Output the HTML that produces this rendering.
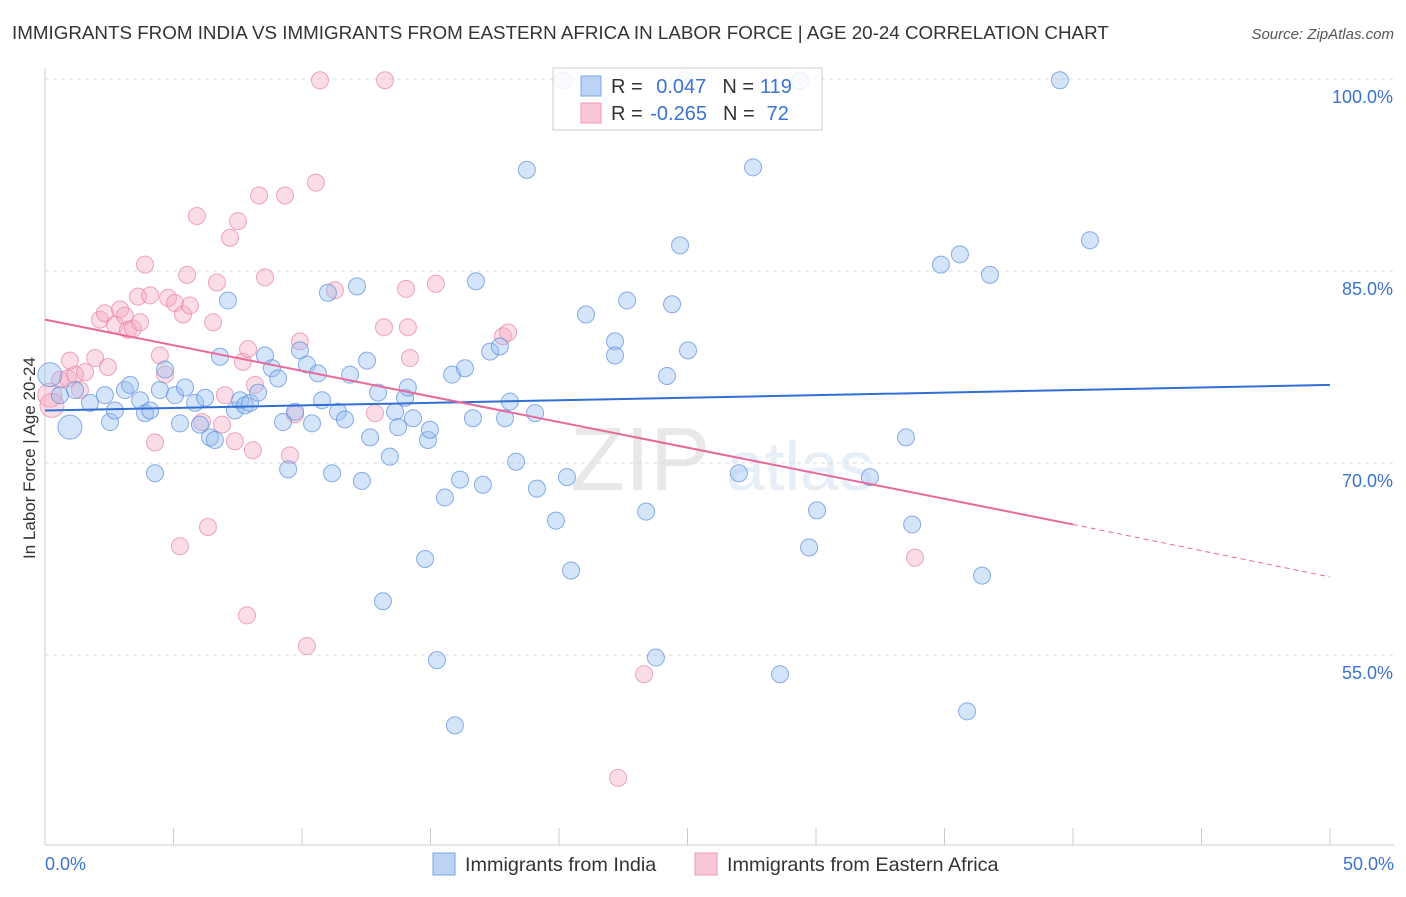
<!DOCTYPE html>
<html><head><meta charset="utf-8">
<style>
body{margin:0;background:#fff;font-family:"Liberation Sans",sans-serif;}
svg text{font-family:"Liberation Sans",sans-serif;}
</style></head>
<body>
<svg id="chart" width="1406" height="892" xmlns="http://www.w3.org/2000/svg">
<text x="12" y="39" font-size="18.8" fill="#333">IMMIGRANTS FROM INDIA VS IMMIGRANTS FROM EASTERN AFRICA IN LABOR FORCE | AGE 20-24 CORRELATION CHART</text>
<text x="1394" y="39" font-size="15" fill="#555" font-style="italic" text-anchor="end">Source: ZipAtlas.com</text>
<text x="35" y="458" font-size="17" fill="#333" text-anchor="middle" transform="rotate(-90 35 458)">In Labor Force | Age 20-24</text>
<text x="640" y="490" font-size="90" fill="#e8e8e8" font-family="Liberation Serif" text-anchor="middle">ZIP</text>
<text x="800" y="490" font-size="70" fill="#e6eef8" text-anchor="middle">atlas</text>
<g id="grid"></g><g id="axes"></g><g id="pts"></g><g id="lines"></g>
<g>
<rect x="553" y="68" width="269" height="62" fill="#fff" fill-opacity="0.85" stroke="#ccc"/>
<rect x="581" y="76" width="20" height="20" fill="#bcd3f5" stroke="#7aa6e6"/>
<rect x="581" y="103" width="20" height="20" fill="#f9c7d6" stroke="#ee9ab5"/>
<text x="611" y="93" font-size="20" fill="#333">R = <tspan fill="#3b73d1" dx="8">0.047</tspan><tspan dx="16">N =</tspan><tspan fill="#3b73d1" dx="6">119</tspan></text>
<text x="611" y="120" font-size="20" fill="#333">R = <tspan fill="#3b73d1" dx="2">-0.265</tspan><tspan dx="16">N =</tspan><tspan fill="#3b73d1" dx="12">72</tspan></text>
</g>
<g>
<rect x="433" y="853" width="22" height="22" fill="#bcd3f5" stroke="#7aa6e6"/>
<text x="465" y="871" font-size="19.8" fill="#333">Immigrants from India</text>
<rect x="695" y="853" width="22" height="22" fill="#f9c7d6" stroke="#ee9ab5"/>
<text x="727" y="871" font-size="19.8" fill="#333">Immigrants from Eastern Africa</text>
</g>
</svg>
<script>
const yTicks=[100,85,70,55];
const yTickLabels=["100.0%","85.0%","70.0%","55.0%"];
const xTicks=[0,5,10,15,20,25,30,35,40,45,50];
const xEndLabels=["0.0%","50.0%"];
const indiaX=[0.19,0.97,0.58,1.17,1.75,2.33,2.53,2.72,3.11,3.31,3.70,3.89,4.09,4.28,4.47,4.67,5.06,5.25,5.45,5.84,6.03,6.23,6.42,6.61,6.81,7.12,7.39,7.59,7.78,7.98,8.29,8.56,8.83,9.07,9.26,9.46,9.73,9.92,10.19,10.39,10.62,10.78,11.01,11.17,11.40,11.67,11.87,12.14,12.33,12.53,12.65,12.96,13.15,13.42,13.62,13.74,14.01,14.12,14.32,14.79,14.90,14.98,15.25,15.56,15.84,15.95,16.15,16.34,16.65,16.77,17.04,17.32,17.70,17.90,18.09,18.33,18.75,19.07,19.14,19.88,20.31,20.47,21.05,22.18,22.18,22.65,23.39,23.77,24.20,24.40,24.71,25.02,27.00,27.55,28.60,29.73,30.04,32.10,33.50,33.74,34.86,35.60,35.88,36.46,36.77,39.49,40.66,20.16,29.38,24.90];
const indiaY=[76.9,72.8,75.3,75.7,74.7,75.3,73.2,74.1,75.7,76.1,74.9,73.9,74.1,69.2,75.7,77.3,75.3,73.1,75.9,74.7,73.0,75.1,72.0,71.8,78.3,82.7,74.1,74.9,74.5,74.7,75.5,78.4,77.4,76.6,73.2,69.5,74.0,78.8,77.7,73.1,77.0,74.9,83.3,69.2,74.0,73.4,76.9,83.8,68.6,78.0,72.0,75.5,59.2,70.5,74.0,72.8,75.1,75.9,73.5,62.5,71.8,72.6,54.6,67.3,76.9,49.5,68.7,77.4,73.5,84.2,68.3,78.7,79.1,73.5,74.8,70.1,92.9,73.9,68.0,65.5,68.9,61.6,81.6,79.5,78.4,82.7,66.2,54.8,76.8,82.4,87.0,78.8,69.2,93.1,53.5,63.4,66.3,68.9,72.0,65.2,85.5,86.3,50.6,61.2,84.7,99.9,87.4,99.9,99.9,99.9];
const eafX=[0.19,0.27,0.58,0.89,1.17,1.36,1.56,0.97,1.95,2.14,2.33,2.45,2.72,2.92,3.11,3.23,3.42,3.70,3.62,3.89,4.09,4.28,4.47,4.67,4.79,5.06,5.25,5.37,5.53,5.64,5.91,6.11,6.34,6.54,6.69,6.89,7.00,7.20,7.39,7.51,7.70,8.09,8.17,8.33,8.56,7.86,9.34,9.53,9.73,9.92,10.19,10.54,10.70,11.28,12.84,13.23,13.19,14.05,14.12,14.20,15.21,17.82,18.02,23.31,22.30,33.85,7.90];
const eafY=[75.3,74.5,76.5,76.6,76.9,75.7,77.1,78.0,78.2,81.2,81.7,77.5,80.8,82.0,81.5,80.4,80.5,81.0,83.0,85.5,83.1,71.6,78.4,76.9,82.9,82.5,63.5,81.6,84.7,82.3,89.3,73.2,65.0,81.0,84.1,73.0,75.3,87.6,71.7,88.9,77.9,71.0,76.1,90.9,84.5,58.1,90.9,70.6,73.8,79.5,55.7,91.9,99.9,83.5,73.9,99.9,80.6,83.6,80.6,78.2,84.0,79.9,80.2,53.5,45.4,62.6,78.9];
const indiaTrend=[[0,74.1],[50,76.1]];
const eafTrend=[[0,81.2],[40,65.2],[50,61.1]];

const NS="http://www.w3.org/2000/svg";
const X=v=>45+v*25.7;
const Y=v=>79+(100-v)*12.8;
function mk(tag,attrs,parent){const e=document.createElementNS(NS,tag);for(const k in attrs)e.setAttribute(k,attrs[k]);document.getElementById(parent).appendChild(e);return e;}

yTicks.forEach((t,i)=>{
  const g=mk('line',{x1:45,x2:1394,y1:Y(t),y2:Y(t),stroke:'#ddd','stroke-dasharray':'4 4'},'grid');
  
  
  const l=mk('text',{x:1393,y:Y(t)+24,'font-size':18,fill:'#3b73d1','text-anchor':'end'},'grid');
  l.textContent=yTickLabels[i];
  
  
});
const ya=mk('line',{x1:45,x2:45,y1:68,y2:845,stroke:'#ccc'},'axes');


const xa=mk('line',{x1:45,x2:1394,y1:845,y2:845,stroke:'#ccc'},'axes');


xTicks.forEach(t=>{
  const k=mk('line',{x1:X(t),x2:X(t),y1:828,y2:845,stroke:'#ccc'},'axes');
  
  
});
[[xTicks[0],'start',45],[xTicks[xTicks.length-1],'end',1394]].forEach((a,i)=>{
  const l=mk('text',{x:a[2],y:870,'font-size':18,fill:'#3b73d1','text-anchor':a[1]},'axes');
  l.textContent=xEndLabels[i];
  
  
});
function drawPts(xs,ys,fill,stroke,name,bigCount){
  xs.forEach((x,i)=>{
    const c=mk('circle',{cx:X(x),cy:Y(ys[i]),r:i<bigCount?12:8.5,fill:fill,stroke:stroke,'stroke-width':1},'pts');
    
    
  });
}
drawPts(eafX,eafY,'rgba(245,170,195,0.4)','rgba(232,130,165,0.7)','eastern-africa-point',2);
drawPts(indiaX,indiaY,'rgba(150,190,240,0.4)','rgba(90,140,220,0.7)','india-point',2);
const bl=mk('line',{x1:X(indiaTrend[0][0]),y1:Y(indiaTrend[0][1]),x2:X(indiaTrend[1][0]),y2:Y(indiaTrend[1][1]),stroke:'#2f6fd6','stroke-width':2},'lines');


const pl=mk('line',{x1:X(eafTrend[0][0]),y1:Y(eafTrend[0][1]),x2:X(eafTrend[1][0]),y2:Y(eafTrend[1][1]),stroke:'#e8699a','stroke-width':2},'lines');


const pd=mk('line',{x1:X(eafTrend[1][0]),y1:Y(eafTrend[1][1]),x2:X(eafTrend[2][0]),y2:Y(eafTrend[2][1]),stroke:'#e8699a','stroke-width':1,'stroke-dasharray':'5 4'},'lines');


</script>
</body></html>
